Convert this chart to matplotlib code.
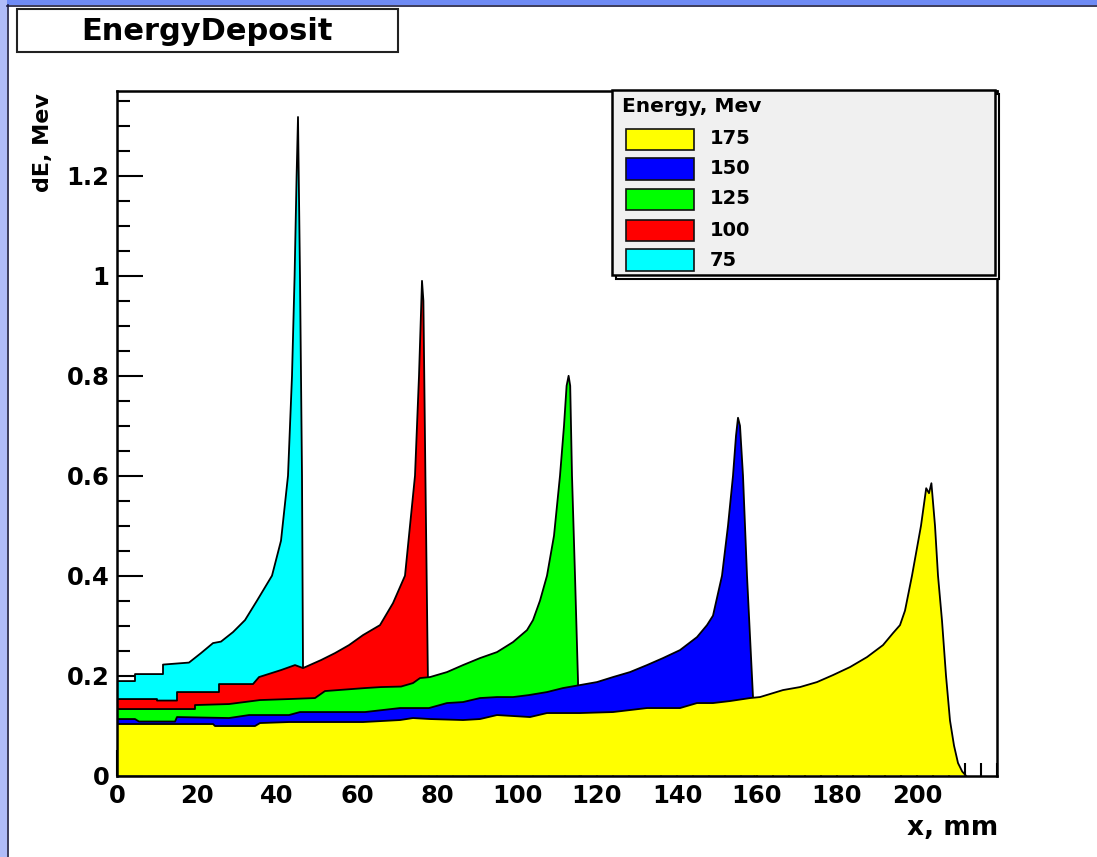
import matplotlib
matplotlib.use("Agg")
import matplotlib.pyplot as plt
from matplotlib.patches import Rectangle
from matplotlib.ticker import MultipleLocator

# ---- data: energy deposit profiles (x in mm, dE in MeV) ----
cyan_x = [0, 4.5, 4.5, 11.5, 11.5, 18, 21, 24, 26, 29, 32, 35, 38.75, 41, 42.75,
          43.75, 44.4, 44.9, 45.25, 45.75, 46.25, 46.5, 46.8]
cyan_y = [0.189, 0.189, 0.203, 0.203, 0.222, 0.226, 0.245, 0.265, 0.268, 0.287,
          0.311, 0.35, 0.40, 0.47, 0.60, 0.80, 1.00, 1.20, 1.318, 1.00, 0.60, 0.22, 0.0]

red_x = [0, 10, 10, 15, 15, 25.5, 25.5, 34, 35.5, 41, 44.5, 46.5, 51, 54.5, 58,
         61.5, 65.75, 69, 72, 74.5, 75.5, 76.25, 76.6, 77.1, 77.75, 78.0]
red_y = [0.153, 0.153, 0.150, 0.150, 0.167, 0.167, 0.183, 0.183, 0.197, 0.211,
         0.221, 0.215, 0.231, 0.245, 0.261, 0.281, 0.301, 0.345, 0.40, 0.60, 0.80,
         0.99, 0.95, 0.60, 0.18, 0.0]

green_x = [0, 19.5, 19.5, 28, 35.75, 43, 49.5, 52, 62, 66, 71, 74, 75.75, 78.25,
           82.5, 86.5, 90.75, 95, 99, 102.5, 104, 105.75, 107.5, 109.25, 110.75,
           111.75, 112.4, 112.9, 113.3, 113.75, 114.5, 115.25, 115.6]
green_y = [0.133, 0.133, 0.141, 0.143, 0.151, 0.153, 0.155, 0.169, 0.175, 0.177,
           0.178, 0.185, 0.195, 0.197, 0.207, 0.221, 0.235, 0.247, 0.267, 0.291,
           0.311, 0.35, 0.40, 0.48, 0.60, 0.70, 0.78, 0.80, 0.78, 0.60, 0.40, 0.19, 0.0]

blue_x = [0, 4.5, 5.5, 14.5, 15, 28, 33, 43, 45.75, 62, 70.75, 78, 82.5, 86.5,
          90.75, 95, 99, 103, 107.5, 111.5, 115.75, 120, 124, 128.25, 132.5, 136.5,
          140.75, 145, 147.5, 149, 151.25, 152.75, 154, 154.75, 155.25, 155.75,
          156.5, 157.5, 159, 159.4]
blue_y = [0.113, 0.113, 0.108, 0.108, 0.117, 0.115, 0.121, 0.121, 0.127, 0.127,
          0.135, 0.135, 0.145, 0.147, 0.155, 0.157, 0.157, 0.161, 0.167, 0.175,
          0.181, 0.187, 0.197, 0.207, 0.221, 0.235, 0.251, 0.277, 0.301, 0.32,
          0.40, 0.50, 0.60, 0.68, 0.716, 0.70, 0.60, 0.40, 0.157, 0.0]

yellow_x = [0, 24, 24.5, 34.5, 35.75, 43, 61.5, 70.75, 74, 78.25, 86.5, 90.75, 95,
            103.25, 107.5, 115.75, 124, 132.5, 140.75, 145, 149, 153.25, 158.25,
            160.75, 166.5, 170.75, 175, 179, 183.25, 187.5, 191.5, 194, 195.75, 197,
            198.75, 201, 202.3, 203, 203.6, 204.5, 205.25, 206.25, 207.25, 208.25,
            209.25, 210.25, 211.3, 212.2]
yellow_y = [0.103, 0.103, 0.099, 0.099, 0.105, 0.107, 0.107, 0.111, 0.115, 0.113,
            0.111, 0.113, 0.121, 0.117, 0.125, 0.125, 0.127, 0.135, 0.135, 0.145,
            0.145, 0.149, 0.155, 0.157, 0.171, 0.177, 0.187, 0.201, 0.217, 0.237,
            0.261, 0.285, 0.301, 0.33, 0.40, 0.50, 0.575, 0.565, 0.585, 0.50, 0.40,
            0.31, 0.20, 0.11, 0.06, 0.025, 0.008, 0.0]

energies = ["175", "150", "125", "100", "75"]
colors = {"175": "#ffff00", "150": "#0000ff", "125": "#00ff00",
          "100": "#ff0000", "75": "#00ffff"}
series = {"75": (cyan_x, cyan_y), "100": (red_x, red_y), "125": (green_x, green_y),
          "150": (blue_x, blue_y), "175": (yellow_x, yellow_y)}

x_ticks = [0, 20, 40, 60, 80, 100, 120, 140, 160, 180, 200]
x_labels = ["0", "20", "40", "60", "80", "100", "120", "140", "160", "180", "200"]
y_ticks = [0, 0.2, 0.4, 0.6, 0.8, 1.0, 1.2]
y_labels = ["0", "0.2", "0.4", "0.6", "0.8", "1", "1.2"]

# ---- figure ----
W, H = 1097, 857
plt.rcParams["font.family"] = ["DejaVu Sans"]
plt.rcParams["font.weight"] = "bold"
fig = plt.figure(figsize=(W / 100, H / 100), dpi=100, facecolor="white")


def fx(px):
    return px / W


def fy(py):
    return 1 - py / H


def frect(x0, y0, x1, y1, **kw):
    r = Rectangle((fx(x0), fy(y1)), fx(x1) - fx(x0), fy(y0) - fy(y1),
                  transform=fig.transFigure, **kw)
    fig.patches.append(r)
    return r


# window frame strips
frect(0, 0, W, 5, facecolor="#6f8bf5", edgecolor="none")
frect(0, 0, 7, H, facecolor="#b0bcf8", edgecolor="none")
fig.add_artist(plt.Line2D([fx(7), 1], [fy(5.5), fy(5.5)], transform=fig.transFigure,
                          color="#1a1a40", lw=1.2))
fig.add_artist(plt.Line2D([fx(7.5), fx(7.5)], [fy(5), 0], transform=fig.transFigure,
                          color="#1a1a40", lw=1.2))

# axes
ax_l, ax_r, ax_t, ax_b = 117, 997, 91, 775.5
ax = fig.add_axes([fx(ax_l), fy(ax_b), fx(ax_r) - fx(ax_l), fy(ax_t) - fy(ax_b)])
ax.set_facecolor("white")
ax.set_xlim(0, 220)
ax.set_ylim(0, 1.370)

z = 3
for key in ["75", "100", "125", "150", "175"]:
    xs, ys = series[key]
    ax.fill_between(xs, ys, 0, facecolor=colors[key], edgecolor="none", zorder=z)
    ax.plot(xs, ys, color="black", lw=1.3, zorder=z + 0.05)
    z += 0.1

for s in ax.spines.values():
    s.set_linewidth(1.8)
    s.set_zorder(10)

ax.set_xticks(x_ticks, x_labels)
ax.set_yticks(y_ticks, y_labels)
ax.xaxis.set_minor_locator(MultipleLocator(4))
ax.yaxis.set_minor_locator(MultipleLocator(0.05))
ax.tick_params(axis="both", which="major", direction="in", length=18.5, width=1.5,
               labelsize=17.5)
ax.tick_params(axis="both", which="minor", direction="in", length=9.5, width=1.5)
ax.tick_params(axis="x", which="major", pad=6)
ax.tick_params(axis="y", which="major", pad=5.5)
for lab in ax.get_xticklabels() + ax.get_yticklabels():
    lab.set_fontweight("bold")

# axis titles
fig.text(fx(998), fy(835), "x, mm", ha="right", va="baseline", fontsize=19,
         fontweight="bold")
fig.text(fx(43), fy(93), "dE, Mev", ha="center", va="top", rotation=90,
         fontsize=16, fontweight="bold")

# title box
frect(17, 9, 398, 52, facecolor="white", edgecolor="#222222", lw=1.5)
fig.text(fx(207.5), fy(31), "EnergyDeposit", ha="center", va="center",
         fontsize=22, fontweight="bold")

# legend box with shadow
frect(616, 94, 999, 279, facecolor="white", edgecolor="black", lw=1.5, zorder=20)
frect(612, 90, 995, 275, facecolor="#f0f0f0", edgecolor="black", lw=1.8, zorder=21)
fig.text(fx(622), fy(107), "Energy, Mev", ha="left", va="center", fontsize=14.5,
         fontweight="bold", zorder=22)
row_y = [139, 169, 199, 230, 260]
for e, yc in zip(energies, row_y):
    frect(626, yc - 10.5, 694, yc + 10.5, facecolor=colors[e], edgecolor="#111111",
          lw=1.2, zorder=22)
    fig.text(fx(710), fy(yc), e, ha="left", va="center", fontsize=14,
             fontweight="bold", zorder=22)

fig.savefig("out.png", dpi=100, facecolor="white")
